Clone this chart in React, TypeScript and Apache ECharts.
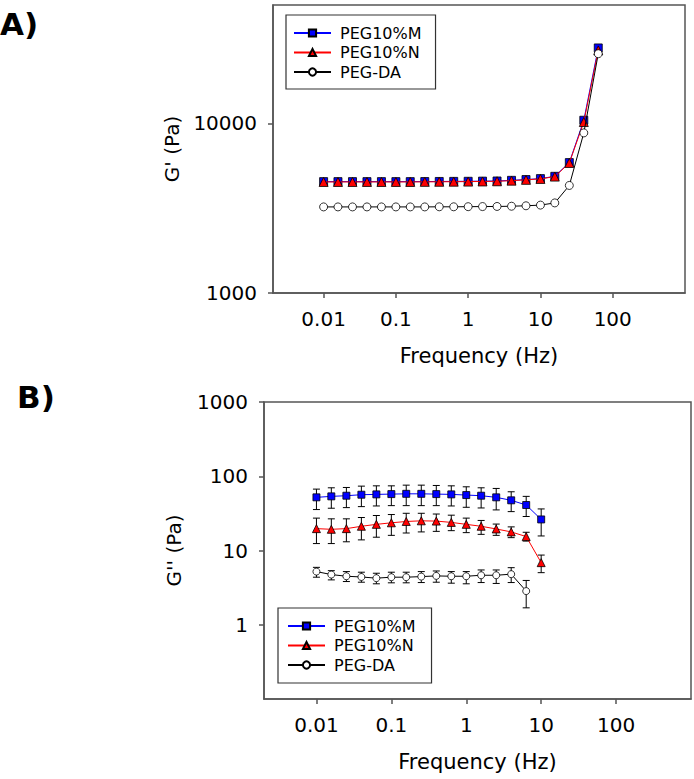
import React, { useEffect, useRef } from "react";
import * as echarts from "echarts";

// Panel A: storage modulus G' (Pa) vs frequency (Hz)
const freqA = [0.01, 0.0158, 0.0251, 0.0398, 0.0631, 0.1, 0.158, 0.251, 0.398, 0.631, 1, 1.58, 2.51, 3.98, 6.31, 10, 15.8, 25.1, 39.8, 63.1];
const gPrimeM = [4540, 4540, 4540, 4540, 4540, 4540, 4540, 4545, 4550, 4555, 4560, 4570, 4580, 4620, 4670, 4730, 4880, 5880, 10450, 27900];
const gPrimeN = [4520, 4520, 4520, 4520, 4520, 4520, 4520, 4525, 4530, 4535, 4540, 4550, 4560, 4600, 4650, 4710, 4860, 5850, 10200, 27000];
const gPrimeDA = [3220, 3220, 3220, 3220, 3220, 3220, 3220, 3220, 3225, 3225, 3230, 3235, 3240, 3250, 3270, 3300, 3400, 4310, 8800, 25800];

// Panel B: loss modulus G'' (Pa) vs frequency (Hz)
const freqB = [0.01, 0.0158, 0.0251, 0.0398, 0.0631, 0.1, 0.158, 0.251, 0.398, 0.631, 1, 1.58, 2.51, 3.98, 6.31, 10];
const g2M = [52, 53.6, 54.7, 56.4, 57, 57.5, 58, 58, 57.5, 57, 55.8, 54.7, 52, 47.4, 41, 26.2];
const g2MHi = [67.1, 69.9, 70.6, 73.6, 74.3, 74.3, 75.9, 75.9, 75.1, 74.3, 72.1, 69.9, 68.5, 61.8, 53.6, 36.3];
const g2MLo = [35.6, 37.1, 37.8, 39.0, 39.8, 40.2, 40.2, 40.2, 40.2, 39.8, 38.2, 37.4, 35.2, 33.4, 28.7, 15.7];
const g2N = [19.7, 19.3, 19.7, 21.2, 22.5, 23.6, 24.6, 25.1, 24.9, 23.9, 22.5, 21.2, 19.5, 17.8, 15.4, 6.86];
const g2NHi = [27.3, 26.7, 26.7, 27.8, 29.6, 30.5, 31.7, 31.7, 31, 29.9, 27.3, 25.4, 22.7, 20.8, 17.6, 8.68];
const g2NLo = [12.4, 12.4, 13.1, 13.9, 15.1, 16, 17.2, 17.8, 18.1, 18.5, 17.4, 16.5, 16, 14.9, 13.4, 5.03];
const g2DA = [5.2, 4.74, 4.5, 4.4, 4.24, 4.37, 4.37, 4.45, 4.55, 4.5, 4.5, 4.64, 4.64, 4.8, 2.84];
const g2DAHi = [5.93, 5.35, 5.2, 5.1, 4.94, 5.1, 5.1, 5.2, 5.3, 5.2, 5.2, 5.47, 5.47, 5.87, 3.95];
const g2DALo = [4.37, 4.02, 3.82, 3.74, 3.56, 3.67, 3.67, 3.7, 3.74, 3.63, 3.56, 3.7, 3.6, 3.7, 1.69];

const seriesNames = ["PEG10%M", "PEG10%N", "PEG-DA"];
const xTickExps = [-2, -1, 0, 1, 2];
const yTickExpsA = [3, 4];
const yTickExpsB = [0, 1, 2, 3];

const FONT = "DejaVu Sans";
const AXIS_COLOR = "#555555";

const lg = (v: number) => Math.log10(v);
const pts = (xs: number[], ys: number[]) => ys.map((y, i) => [lg(xs[i]), lg(y)]);
const errPts = (xs: number[], hi: number[], lo: number[]) => hi.map((h, i) => [lg(xs[i]), lg(h), lg(lo[i])]);
const powLabel = (v: number) => {
  const p = Math.round(v);
  const val = Math.pow(10, p);
  return p < 0 ? val.toFixed(-p) : String(val);
};

const styles = [
  { color: "#0000ff", symbol: "rect", sizeA: 8, sizeB: 7 },
  { color: "#ff0000", symbol: "triangle", sizeA: 9, sizeB: 8 },
  { color: "#000000", symbol: "circle", sizeA: 8, sizeB: 7, fill: "#ffffff" },
];

function xAxis(gridIndex: number) {
  return {
    type: "value",
    gridIndex,
    min: -2.7,
    max: 3,
    name: "Frequency (Hz)",
    nameLocation: "middle",
    nameGap: 52,
    nameTextStyle: { fontFamily: FONT, fontSize: 21, color: "#000" },
    axisLine: { show: true, onZero: false, lineStyle: { color: AXIS_COLOR, width: 1.5 } },
    axisTick: { show: true, length: 5, inside: false, customValues: xTickExps, lineStyle: { color: AXIS_COLOR, width: 1.5 } },
    axisLabel: { customValues: xTickExps, formatter: powLabel, fontFamily: FONT, fontSize: 20, color: "#000", margin: 16 },
    splitLine: { show: false },
  };
}

function yAxis(gridIndex: number, min: number, max: number, ticks: number[], name: string, nameGap: number) {
  return {
    type: "value",
    gridIndex,
    min,
    max,
    name,
    nameLocation: "middle",
    nameGap,
    nameRotate: 90,
    nameTextStyle: { fontFamily: FONT, fontSize: 20, color: "#000" },
    axisLine: { show: true, onZero: false, lineStyle: { color: AXIS_COLOR, width: 1.5 } },
    axisTick: { show: true, length: 5, inside: false, customValues: ticks, lineStyle: { color: AXIS_COLOR, width: 1.5 } },
    axisLabel: { customValues: ticks, formatter: powLabel, fontFamily: FONT, fontSize: 20, color: "#000", margin: 16 },
    splitLine: { show: false },
  };
}

function lineSeries(idx: number, panel: number, data: number[][]) {
  const s = styles[idx];
  return {
    type: "line",
    name: seriesNames[idx],
    xAxisIndex: panel,
    yAxisIndex: panel,
    data,
    symbol: s.symbol,
    symbolSize: panel === 0 ? s.sizeA : s.sizeB,
    showAllSymbol: true,
    lineStyle: { color: s.color, width: 1 },
    itemStyle: { color: s.fill || s.color, borderColor: "#000", borderWidth: 0.8 },
    z: 3 + idx,
  };
}

function errorSeries(panel: number, data: number[][], name: string) {
  return {
    type: "custom",
    name,
    xAxisIndex: panel,
    yAxisIndex: panel,
    data,
    encode: { x: 0, y: [1, 2] },
    z: 2,
    silent: true,
    renderItem: (params: any, api: any) => {
      const x = api.value(0);
      const hi = api.coord([x, api.value(1)]);
      const lo = api.coord([x, api.value(2)]);
      const cap = 3.5;
      const st = { stroke: "#000", lineWidth: 1 };
      return {
        type: "group",
        children: [
          { type: "line", shape: { x1: hi[0], y1: hi[1], x2: lo[0], y2: lo[1] }, style: st },
          { type: "line", shape: { x1: hi[0] - cap, y1: hi[1], x2: hi[0] + cap, y2: hi[1] }, style: st },
          { type: "line", shape: { x1: lo[0] - cap, y1: lo[1], x2: lo[0] + cap, y2: lo[1] }, style: st },
        ],
      };
    },
  };
}

function legend(left: number, top: number, pad: number[]) {
  return {
    data: seriesNames,
    orient: "vertical",
    left,
    top,
    itemWidth: 37,
    itemHeight: 9,
    itemGap: 3.5,
    padding: pad,
    borderColor: "#333",
    borderWidth: 1.2,
    selectedMode: false,
    textStyle: { fontFamily: FONT, fontSize: 16, color: "#000", lineHeight: 16, padding: [0, 0, 0, 4] },
  };
}

export default function App() {
  const ref = useRef<HTMLDivElement>(null);
  useEffect(() => {
    if (!ref.current) return;
    const chart = echarts.init(ref.current, undefined, { renderer: "svg" });
    chart.setOption({
      animation: false,
      backgroundColor: "#ffffff",
      grid: [
        { left: 273, top: 5, width: 412, height: 288, show: true, borderColor: AXIS_COLOR, borderWidth: 1.5, backgroundColor: "transparent" },
        { left: 264, top: 402, width: 427, height: 297, show: true, borderColor: AXIS_COLOR, borderWidth: 1.5, backgroundColor: "transparent" },
      ],
      xAxis: [xAxis(0), xAxis(1)],
      yAxis: [
        yAxis(0, 3, lg(50000), yTickExpsA, "G' (Pa)", 91),
        yAxis(1, -1, 3, yTickExpsB, "G'' (Pa)", 80),
      ],
      legend: [legend(286, 15, [10, 14, 9, 7]), legend(278, 608, [10, 16, 10, 9])],
      graphic: [
        { type: "text", left: 0, top: 8, style: { text: "A)", fontFamily: FONT, fontSize: 31, fontWeight: "bold", fill: "#000" } },
        { type: "text", left: 17, top: 381, style: { text: "B)", fontFamily: FONT, fontSize: 31, fontWeight: "bold", fill: "#000" } },
      ],
      series: [
        lineSeries(0, 0, pts(freqA, gPrimeM)),
        lineSeries(1, 0, pts(freqA, gPrimeN)),
        lineSeries(2, 0, pts(freqA, gPrimeDA)),
        errorSeries(1, errPts(freqB, g2MHi, g2MLo), "errM"),
        errorSeries(1, errPts(freqB, g2NHi, g2NLo), "errN"),
        errorSeries(1, errPts(freqB.slice(0, g2DA.length), g2DAHi, g2DALo), "errDA"),
        lineSeries(0, 1, pts(freqB, g2M)),
        lineSeries(1, 1, pts(freqB, g2N)),
        lineSeries(2, 1, pts(freqB, g2DA)),
      ],
    });
    return () => chart.dispose();
  }, []);
  return <div ref={ref} style={{ position: "fixed", left: 0, top: 0, width: 694, height: 779 }} />;
}
